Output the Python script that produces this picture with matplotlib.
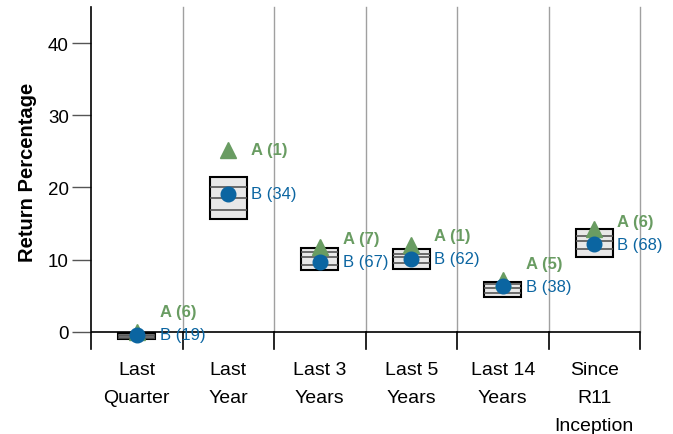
import matplotlib.pyplot as plt
import numpy as np

plt.rcParams['font.family'] = ['Liberation Sans', 'DejaVu Sans']

# categories and values
categories = ['Last\nQuarter', 'Last\nYear', 'Last 3\nYears', 'Last 5\nYears',
              'Last 14\nYears', 'Since\nR11\nInception']
# percentile box: 5th, 25th, median, 75th, 95th
pct_top = [-0.2, 21.5, 11.6, 11.4, 6.9, 14.3]
pct_25 = [-0.4, 20.0, 11.0, 10.8, 6.55, 13.3]
pct_med = [-0.6, 18.5, 10.3, 10.3, 6.1, 12.6]
pct_75 = [-0.85, 16.9, 9.3, 9.5, 5.3, 11.5]
pct_bot = [-1.05, 15.6, 8.6, 8.7, 4.8, 10.4]
a_values = [0.0, 25.2, 11.8, 12.0, 7.2, 14.3]
b_values = [-0.4, 19.1, 9.7, 10.1, 6.3, 12.1]
a_ranks = [6, 1, 7, 1, 5, 6]
b_ranks = [19, 34, 67, 62, 38, 68]

green = '#699c62'
blue = '#0b65a1'

fig = plt.figure(figsize=(6.73, 4.35), dpi=100)
ax = fig.add_axes([91 / 673, 1 - 350 / 435, (640 - 91) / 673, (350 - 8) / 435])

x = np.arange(len(categories))
n = len(categories)
ax.set_xlim(-0.5, n - 0.5)
ax.set_ylim(-2.4, 45)

# grid lines between the categories
for b in np.arange(n) + 0.5:
    ax.plot([b, b], [0, 45], color='#a0a0a0', lw=1, zorder=1, clip_on=False)
    ax.plot([b, b], [-2.4, 0], color='black', lw=1.2, zorder=2, clip_on=False)
ax.axhline(0, color='black', lw=1.2, zorder=2)

# percentile boxes
tops = np.array(pct_top)
bots = np.array(pct_bot)
ax.bar(x, tops - bots, bottom=bots, width=0.4, color='#e8e8e8',
       edgecolor='black', linewidth=1.5, zorder=3)
for arr in (pct_25, pct_med, pct_75):
    ax.hlines(arr, x - 0.2, x + 0.2, color='#555555', lw=1.2, zorder=4)

# markers
ax.plot(x, a_values, '^', color=green, ms=11.5, zorder=5, linestyle='none')
ax.plot(x, b_values, 'o', color=blue, ms=10.5, zorder=6, linestyle='none')

# labels, A pushed up when too close to B
for i in range(n):
    b_lab = b_values[i]
    a_lab = max(a_values[i], b_values[i] + 3.2)
    ax.text(x[i] + 0.25, a_lab, f'A ({a_ranks[i]})', color=green,
            fontsize=12, fontweight='bold', va='center', ha='left', zorder=7)
    ax.text(x[i] + 0.25, b_lab, f'B ({b_ranks[i]})', color=blue,
            fontsize=12, va='center', ha='left', zorder=7)

ax.set_yticks([0, 10, 20, 30, 40])
ax.tick_params(axis='y', labelsize=13.5, length=14, width=1, color='#555555', pad=2)
ax.set_xticks(x)
ax.set_xticklabels(categories, fontsize=14, linespacing=1.83)
ax.tick_params(axis='x', length=0, pad=9)
for lab in ax.get_xticklabels():
    lab.set_verticalalignment('top')

for s in ('top', 'right', 'bottom'):
    ax.spines[s].set_visible(False)
ax.spines['left'].set_linewidth(1.2)

ax.set_ylabel('Return Percentage', fontsize=14.5, fontweight='bold')
ax.yaxis.set_label_coords(-0.098, 0.518)

fig.savefig('out.png', dpi=100)
